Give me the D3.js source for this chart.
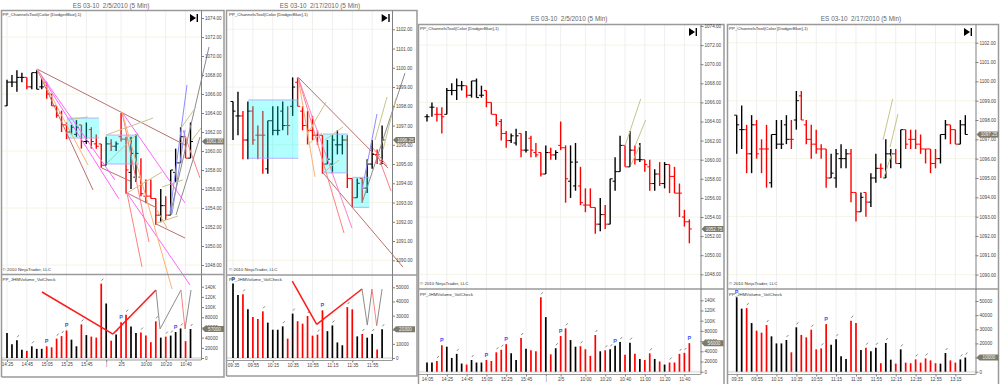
<!DOCTYPE html>
<html><head><meta charset="utf-8">
<script src="https://cdn.jsdelivr.net/npm/d3@7/dist/d3.min.js"></script>
<style>html,body{margin:0;padding:0;background:#fff;overflow:hidden}svg{display:block}text{font-family:"Liberation Sans",Arial,sans-serif;white-space:pre}</style>
</head><body><svg id="c" width="1000" height="384"></svg>
<script>
// Feb 5 session (ES 03-10, 5 min)
const openA=[1064.5,1065.5,1064.75,1064.75,1064.75,1067.25,1067.25,1067.75,1067.75,1066.75,1068.25,1066.75,1067.25,1066,1064.75,1064,1062.75,1062,1061.75,1062.75,1061,1062.25,1060.75,1060.75,1058.5,1060.75,1060.5,1061.5,1061.25,1057.75,1057.25,1057.25,1055.25,1055.25,1055,1053.25,1054.25,1053.25,1057.75,1058.75,1061.5,1059.25,1061,1060,1060,1059.25,1057.5,1058.5,1057.5,1059.5,1058.25,1056.5,1054,1053.5];
const highA=[1064.75,1066,1065.5,1065.5,1067.5,1068,1068.5,1068.25,1067.75,1068.25,1068.5,1067.75,1067.25,1066,1064.75,1064.25,1063,1062.75,1063.25,1062.75,1063,1062.5,1061.75,1060.75,1061.5,1061.25,1061,1064,1061.5,1061.5,1061.75,1059.25,1057,1057,1055,1056,1055.25,1058,1060.25,1062.5,1061.5,1063,1061.5,1061.75,1060,1060,1059,1059.75,1059.75,1059.5,1059.25,1057.5,1054.75,1053.75];
const lowA=[1064,1064.5,1064,1062.75,1064.75,1066.75,1066.25,1067.25,1066.5,1066.5,1066.5,1066.5,1065.5,1064.75,1063.5,1062,1061.25,1061.75,1061.5,1060.25,1060.75,1060.25,1060.25,1058.25,1058.5,1060,1060,1061,1055.5,1056,1056.75,1055.25,1054.5,1055,1052.25,1052.5,1052.75,1053.25,1056.75,1058.75,1059.25,1059.25,1059.5,1059.75,1058.75,1056.75,1056.75,1057.25,1057,1056.5,1056.5,1054,1053,1051.25];
const closeA=[1064.5,1065.5,1064.75,1064.5,1067.25,1067.25,1067.75,1067.75,1066.75,1068.25,1066.5,1066.75,1066,1064.75,1063.75,1062.75,1062,1062.5,1062.5,1061,1061,1061,1060.5,1058.5,1060.75,1060.5,1060.75,1061.25,1058,1059.75,1059.75,1055.5,1055.25,1055,1053.25,1054.25,1053.25,1058,1058.75,1061.5,1059.25,1061,1060,1060,1059.5,1057.5,1058.5,1057.5,1059.5,1058.25,1056.5,1056.5,1053.5,1052.75];
const volumeA=[18000,18000,21000,52000,49000,27000,35000,16000,14000,23000,18000,18000,23000,21000,38000,43000,54000,36000,23000,66000,45000,42000,40000,146000,107000,34000,46000,70000,85000,62000,49000,50000,44000,31000,72000,40000,42000,44000,51000,58000,33000,57000,35000,25000,23000,36000,25000,20000,14000,18000,18000,35000,37000,56000];
const colourA="kkrrkkkkrkkkrrrrrkkrkrrrkrkrrkkrrrrkrkkkrkrkrrkrkrrrrr";
const timeIdxA=[0,4,8,12,16,20,24,27,32,36,40,44,48,52];
const timeLabA=["14:05","14:25","14:45","15:05","15:25","15:45","|","2/5","10:00","10:20","10:40","11:00","11:20","11:40"];
const pencilA=[2,6,9,14,15,19,23,26,28,31,34,36,37,39,41,45,49,51,52];
const flagA=[3,12,16,27,38,53];

// Feb 17 session
const openB=[1098.25,1097.5,1097.5,1096.25,1097.75,1096.5,1096.5,1094.75,1097.25,1096.75,1097.75,1097,1098,1099.25,1097.75,1097,1096.75,1096.5,1096.5,1095,1095,1096,1096,1096.25,1094.25,1093.25,1094.25,1093.75,1095,1095.5,1095,1096.25,1096.25,1095.75,1097.5,1097,1097,1096.75,1096.5,1096.5,1095.75,1096,1097.25,1097.75,1097.5,1096.75,1097.75];
const highB=[1098.25,1098.75,1097.75,1098.25,1098,1097,1097.75,1097.25,1098,1098,1098.25,1098,1099.5,1099.5,1098,1097.75,1097.5,1096.75,1096.5,1096.25,1096.5,1096.75,1096.5,1096.5,1094.25,1094.25,1094.25,1095.25,1096.25,1095.75,1097,1096.5,1096.5,1097.5,1097.5,1097.5,1097.5,1097.25,1096.5,1096.5,1096.5,1097.25,1098,1097.75,1097.5,1098,1098.25];
const lowB=[1096.25,1096.5,1095.25,1095.25,1096,1095.25,1094.5,1094.5,1096.5,1096.5,1096.75,1096.5,1097.5,1098,1096.75,1096,1096.25,1096,1094.5,1095,1094.5,1095.5,1095.5,1093.75,1092.75,1093.25,1093,1093.5,1094.75,1095,1095,1095.5,1095.75,1095.5,1096.5,1096.5,1096.5,1096.25,1095.75,1095.25,1095.5,1095.75,1097,1096.75,1096.75,1096.75,1097.25];
const closeB=[1097.75,1097.5,1096.25,1097.75,1096.25,1096.5,1096.5,1097.25,1096.75,1096.75,1097,1097,1099,1098,1097,1096.75,1096.5,1096.5,1095,1095.25,1096.25,1096,1096.25,1094.25,1093.25,1094,1093.75,1095,1095.5,1095.5,1096.25,1096.25,1095.75,1097.5,1096.75,1097,1096.75,1096.5,1096.5,1095.75,1096,1097.25,1097.75,1097.5,1096.75,1097.75,1097.25];
const volumeB=[52600,44600,45000,34400,29000,27600,33000,25000,20000,20000,22400,13700,31400,26000,24300,29700,15800,16500,33700,19000,23000,11000,9000,36000,34400,15300,17000,14400,17000,6000,20300,8500,5700,15800,6400,6000,8700,6400,9400,8000,6000,5700,13200,8000,6400,8700,10000];
const colourB="kkrkrrrkkkkrkrrrrrrkkkkrrkrkkrkkrkrrrrrrrkkrrkk";
const timeIdxB=[0,4,8,12,16,20,24,28,32,36,40,44];
const timeLabB=["09:35","09:55","10:15","10:35","10:55","11:15","11:35","11:55","12:15","12:35","12:55","13:15"];
const pencilB=[2,6,10,12,15,17,20,23,26,28,30,33,36,38,42,45,46];
const flagB=[0,18];

const priceTicksA=[1074,1072,1070,1068,1066,1064,1062,1060,1058,1056,1054,1052,1050,1048];
const priceTicksB=[1102,1101,1100,1099,1098,1097,1096,1095,1094,1093,1092,1091,1090];
const volTicksA=[0,20000,40000,60000,80000,100000,120000,140000];
const volTicksB=[0,10000,20000,30000,40000,50000];

// drawing-tool lines: [index1, price1, index2, price2, colour key]
const linesP1=[
[6.05,1068.63,35.9,1060.63,"b"],[19.15,1058.2,24.8,1056.84,"b"],[24.2,1055.58,30.24,1054,"b"],[30.04,1052.32,35.89,1050.84,"b"],[6.05,1068.63,17.34,1055.9,"b"],
[23.19,1064.1,35.89,1054.53,"m"],[24.19,1055.58,36.9,1045.9,"m"],[6.05,1068.63,22.58,1054.95,"m"],[6.05,1068.63,21.77,1056.95,"m"],
[24.19,1055.58,27.22,1047.79,"s"],[23.19,1064.1,28.63,1050.42,"s"],[35.48,1062.2,38.9,1057.16,"s"],
[23.19,1064.1,33.27,1045.47,"o"],[6.05,1068.63,16.33,1058.53,"o"],[30.24,1053.79,32.26,1051.89,"o"],
[32.86,1053.47,36.29,1066.95,"u"],[33.27,1053.37,35.89,1062.2,"u"],
[32.86,1053.26,40.73,1070.95,"g"],[34.07,1053.26,38.91,1061.47,"g"],
[19.96,1061.68,29.44,1063.47,"t"],[12.1,1063.26,16.33,1063.58,"t"],[20.16,1058.74,26.41,1061.89,"t"],[24.19,1055.58,31.25,1057.79,"t"],[31.25,1056.21,35.48,1056.95,"t"],[30.24,1052.42,34.48,1053.16,"t"],[35.08,1062.42,38.1,1064.63,"t"],[37.3,1061.16,39.3,1062.53,"t"]];
const linesP2=[
[13.08,1099.52,31.19,1094.79,"b"],[18.11,1094.54,34.2,1089.65,"b"],
[13.08,1099.52,16.5,1094.33,"o"],[13.08,1099.52,22.33,1091.42,"s"],[13.08,1099.52,23.94,1091.68,"p"],
[28.97,1095.57,31.79,1093.6,"s"],[28.17,1095.83,30.99,1094.9,"s"],
[25.96,1093.65,28.97,1097.6,"u"],[25.96,1092.98,34.61,1099.73,"g"],
[15.09,1096.61,18.71,1098.22,"t"],[18.51,1096.25,22.13,1096.93,"t"],[18.11,1094.54,21.33,1095.21,"t"],[14.89,1095.99,17.91,1096.61,"t"],[28.57,1096.25,30.99,1098.48,"t"],[30.18,1095.73,32.8,1098.43,"t"]];
const linesP3=[[40,1061.43,43.17,1066.36,"t"],[42.02,1061.43,44.18,1064.16,"t"],[41.2,1059.44,43.03,1061.54,"t"]];
const linesP4=[[29.44,1096.97,31.39,1099.09,"t"],[30.85,1096.6,32.45,1098.31,"t"],[29.64,1095.05,31.25,1096.29,"t"]];
// shaded regions: [index1, price1, index2, price2]
const boxesP1=[[12.1,1063.47,18.55,1061.37],[19.96,1061.68,26.6,1058.63]];
const boxesP2=[[3.08,1098.33,13.14,1095.3],[18.05,1096.56,23.08,1094.54],[24,1094.31,27.42,1092.75]];
// volume-pane indicator: polyline vertices [index, volume, colour key of the segment that ends here]
const voltP1=[[7.06,129600,""],[21.37,47000,"r"],[30.04,133500,"r"],[30.85,57000,"g"],[35.08,133500,"g"],[35.89,57000,"s"],[37.1,133500,"g"]];
const voltP2=[[11.93,54400,""],[16.84,23800,"r"],[25.96,48800,"r"],[27.02,23300,"g"],[27.97,48800,"g"],[28.91,22800,"s"],[30,48800,"g"]];

const lineCol={b:"#b87070",m:"#ff66ff",p:"#ff80c8",s:"#ff8080",o:"#ffb070",u:"#8c8cff",g:"#8c8c8c",t:"#c8c48c",r:"#ff1a1a"};
const barCol={k:"#000",r:"#ff0000"};
const fmt2=d3.format(".2f");
const volFmt=v=>v>=100000?(v/1000)+"K":String(v);

const panels=[
 {o:[openA,highA,lowA,closeA],vol:volumeA,col:colourA,from:4,to:42,tIdx:timeIdxA,tLab:timeLabA,pen:pencilA,flag:flagA,
  pt:priceTicksA,vt:volTicksA,grid:6,pDom:[1074,1048],pPx:[18,265],vDom:[0,140000],vPx:[358,286.7],
  x0:7,dx:4.96,l:1.5,t:10.5,axis:201,div:274.5,bot:360,outerR:224,outerB:377,lines:linesP1,boxes:boxesP1,volt:voltP1,
  title:"ES 03-10  2/5/2010 (5 Min)",titleX:111,titleY:7.5,lx:2.5,ly:15.5,cy:270.5,vy:281,ix:190,iy:14},
 {o:[openB,highB,lowB,closeB],vol:volumeB,col:colourB,from:0,to:31,tIdx:timeIdxB,tLab:timeLabB,pen:pencilB,flag:flagB,
  pt:priceTicksB,vt:volTicksB,grid:3,pDom:[1102,1090],pPx:[29.3,260.3],vDom:[0,50000],vPx:[358,287.3],
  x0:233,dx:4.97,l:226.5,t:10.5,axis:392,div:275,bot:360.5,outerR:417,outerB:376,lines:linesP2,boxes:boxesP2,volt:voltP2,
  title:"ES 03-10  2/17/2010 (5 Min)",titleX:320,titleY:7.5,lx:229,ly:15.5,cy:270.5,vy:281,ix:381.7,iy:14},
 {o:[openA,highA,lowA,closeA],vol:volumeA,col:colourA,from:0,to:54,tIdx:timeIdxA,tLab:timeLabA,pen:pencilA,flag:flagA,
  pt:priceTicksA,vt:volTicksA,grid:6,pDom:[1074,1048],pPx:[26,274.3],vDom:[0,140000],vPx:[371.7,300.3],
  x0:427,dx:4.95,l:418.5,t:24.5,axis:700.5,div:289,bot:374.5,outerR:724,outerB:386,lines:linesP3,boxes:[],volt:[],
  title:"ES 03-10  2/5/2010 (5 Min)",titleX:569,titleY:20.5,lx:420,ly:30,cy:285,vy:295.5,ix:689,iy:28},
 {o:[openB,highB,lowB,closeB],vol:volumeB,col:colourB,from:0,to:47,tIdx:timeIdxB,tLab:timeLabB,pen:pencilB,flag:flagB,
  pt:priceTicksB,vt:volTicksB,grid:3,pDom:[1102,1090],pPx:[42.7,274.6],vDom:[0,50000],vPx:[371.7,301],
  x0:736.7,dx:4.97,l:727.5,t:24.5,axis:975.5,div:289,bot:374.5,outerR:998.5,outerB:386,lines:linesP4,boxes:[],volt:[],
  title:"ES 03-10  2/17/2010 (5 Min)",titleX:861,titleY:20.5,lx:729,ly:30,cy:285,vy:295.5,ix:964,iy:28}
];

const svg=d3.select("#c");
svg.append("rect").attr("width",1000).attr("height",384).attr("fill","#fff");
panels.forEach(drawPanel);

function drawPanel(P){
  const g=svg.append("g");
  const x=d3.scaleLinear().domain([P.from,P.from+1]).range([P.x0,P.x0+P.dx]);
  const y=d3.scaleLinear().domain(P.pDom).range(P.pPx);
  const v=d3.scaleLinear().domain(P.vDom).range(P.vPx);
  const idx=d3.range(P.from,P.to);
  // note: annotation index values are relative to this panel's first visible bar
  const ax=i=>x(i+P.from);
  const L=P.l, R=P.axis;

  // title
  g.append("text").attr("x",P.titleX).attr("y",P.titleY).attr("text-anchor","middle")
    .attr("font-size",6.4).attr("fill","#666").text(P.title);

  // grid
  const gridPrices=P.pt.filter(p=>(p-P.pt[P.pt.length-1])%P.grid===0);
  g.selectAll(null).data(gridPrices).join("line").attr("x1",L).attr("x2",R)
    .attr("y1",d=>y(d)).attr("y2",d=>y(d)).attr("stroke","#f4f4e6").attr("stroke-width",1);
  const vis=P.tIdx.map((d,i)=>[d,P.tLab[i]]).filter(d=>d[0]>=P.from&&d[0]<P.to);
  g.selectAll(null).data(vis).join("line").attr("x1",d=>x(d[0])).attr("x2",d=>x(d[0]))
    .attr("y1",P.t).attr("y2",P.bot).attr("stroke","#efefef").attr("stroke-width",1);
  g.append("line").attr("x1",L).attr("x2",R).attr("y1",v(0)).attr("y2",v(0))
    .attr("stroke","#e6e6e6").attr("stroke-width",2);

  // OHLC bars
  const [O,H,Lo,C]=P.o;
  const bars=g.selectAll(null).data(idx).join("g").attr("stroke",i=>barCol[P.col[i]]).attr("fill","none").attr("stroke-width",1.4);
  bars.append("line").attr("x1",x).attr("x2",x).attr("y1",i=>y(H[i])).attr("y2",i=>y(Lo[i]));
  bars.append("line").attr("x1",i=>x(i)-2.5).attr("x2",x).attr("y1",i=>y(O[i])).attr("y2",i=>y(O[i])).attr("stroke-width",1);
  bars.append("line").attr("x1",x).attr("x2",i=>x(i)+2.5).attr("y1",i=>y(C[i])).attr("y2",i=>y(C[i])).attr("stroke-width",1);

  // shaded boxes (translucent, above the bars)
  P.boxes.forEach(b=>{
    g.append("rect").attr("x",ax(b[0])).attr("y",y(b[1])).attr("width",ax(b[2])-ax(b[0])).attr("height",y(b[3])-y(b[1]))
      .attr("fill","#00ffff").attr("fill-opacity",.3);
    [b[1],b[3]].forEach(p=>g.append("line").attr("x1",ax(b[0])).attr("x2",ax(b[2])).attr("y1",y(p)).attr("y2",y(p))
      .attr("stroke","#b0a0ff").attr("stroke-width",.8));
  });

  // volume
  g.selectAll(null).data(idx).join("line").attr("x1",x).attr("x2",x).attr("y1",v(0)).attr("y2",i=>v(P.vol[i]))
    .attr("stroke",i=>barCol[P.col[i]]).attr("stroke-width",1.7);

  // pencil and flag markers
  g.selectAll(null).data(P.pen.filter(i=>i>=P.from&&i<P.to)).join("line")
    .attr("x1",i=>x(i)+.3).attr("x2",i=>x(i)+2).attr("y1",i=>v(P.vol[i])-3).attr("y2",i=>v(P.vol[i])-5)
    .attr("stroke","#666").attr("stroke-width",.8);
  g.selectAll(null).data(P.flag.filter(i=>i>=P.from&&i<P.to)).join("text")
    .attr("x",x).attr("y",i=>v(P.vol[i])-3).attr("text-anchor","middle").attr("font-size",5.5).attr("font-weight","bold")
    .attr("fill","#3c50ff").text("P");

  // drawing-tool lines
  g.selectAll(null).data(P.lines).join("line").attr("x1",d=>ax(d[0])).attr("x2",d=>ax(d[2]))
    .attr("y1",d=>y(d[1])).attr("y2",d=>y(d[3])).attr("stroke",d=>lineCol[d[4]]).attr("stroke-width",1);

  // volume-pane indicator
  P.volt.forEach((d,i)=>{ if(!i) return; const a=P.volt[i-1];
    g.append("line").attr("x1",ax(a[0])).attr("x2",ax(d[0])).attr("y1",v(a[1])).attr("y2",v(d[1]))
     .attr("stroke",lineCol[d[2]]).attr("stroke-width",d[2]==="r"?1.5:1);
  });

  // frame
  const frame=g.append("g").attr("fill","none").attr("stroke","#9a9a9a");
  frame.append("path").attr("stroke-width",1.5)
    .attr("d",`M${L},${P.outerB}V${P.t}H${P.outerR}V${P.outerB}H${L}`);
  frame.append("line").attr("x1",L).attr("x2",P.outerR).attr("y1",P.div).attr("y2",P.div).attr("stroke-width",1.5);
  frame.append("line").attr("x1",L).attr("x2",R).attr("y1",P.bot).attr("y2",P.bot).attr("stroke-width",1);

  // axes
  const styleAxis=a=>{a.select(".domain").attr("stroke","#808080");a.selectAll(".tick line").attr("stroke","#808080");
    a.selectAll("text").attr("font-size",4.6).attr("fill","#444").attr("font-family",'"Liberation Sans",Arial,sans-serif');};
  g.append("g").attr("transform",`translate(${R},0)`).call(d3.axisRight(y).tickValues(P.pt).tickFormat(fmt2).tickSize(3).tickPadding(1)).call(styleAxis)
    .select(".domain").attr("d",`M0.5,${P.t}V${P.div}`);
  g.append("g").attr("transform",`translate(${R},0)`).call(d3.axisRight(v).tickValues(P.vt).tickFormat(volFmt).tickSize(3).tickPadding(1)).call(styleAxis)
    .select(".domain").attr("d",`M0.5,${P.div}V${P.bot}`);
  g.append("g").attr("transform",`translate(0,${P.bot})`)
    .call(d3.axisBottom(x).tickValues(vis.map(d=>d[0])).tickFormat(d=>vis.find(e=>e[0]===d)[1]).tickSize(2).tickPadding(1)).call(styleAxis)
    .select(".domain").remove();

  // last-value tags
  const tag=(yy,txt)=>{
    g.append("path").attr("d",`M${R+1},${yy}l3,-3h19v6h-19z`).attr("fill","#7d7a6c");
    g.append("text").attr("x",R+13.5).attr("y",yy+1.7).attr("text-anchor","middle").attr("font-size",4.6).attr("fill","#f4f4f4").text(txt);
  };
  const last=P.to-1;
  tag(y(C[last]),fmt2(C[last]));
  tag(v(P.vol[last]),String(P.vol[last]));

  // notes
  const note=(xx,yy,t)=>g.append("text").attr("x",xx).attr("y",yy).attr("font-size",4.4).attr("fill","#333").text(t);
  note(P.lx,P.ly,"PP_ChannelsTool(Color [DodgerBlue],1)");
  note(P.lx,P.cy,"© 2010 NinjaTrader, LLC");
  note(P.lx,P.vy,"PP_JHMVolume_VolCheck");

  // run-to-end icon
  g.append("path").attr("d",`M${P.ix},${P.iy}L${P.ix+6},${P.iy+4}L${P.ix},${P.iy+8}Z`).attr("fill","#000");
  g.append("rect").attr("x",P.ix+6.6).attr("y",P.iy).attr("width",1.4).attr("height",8).attr("fill","#000");
}
</script></body></html>
